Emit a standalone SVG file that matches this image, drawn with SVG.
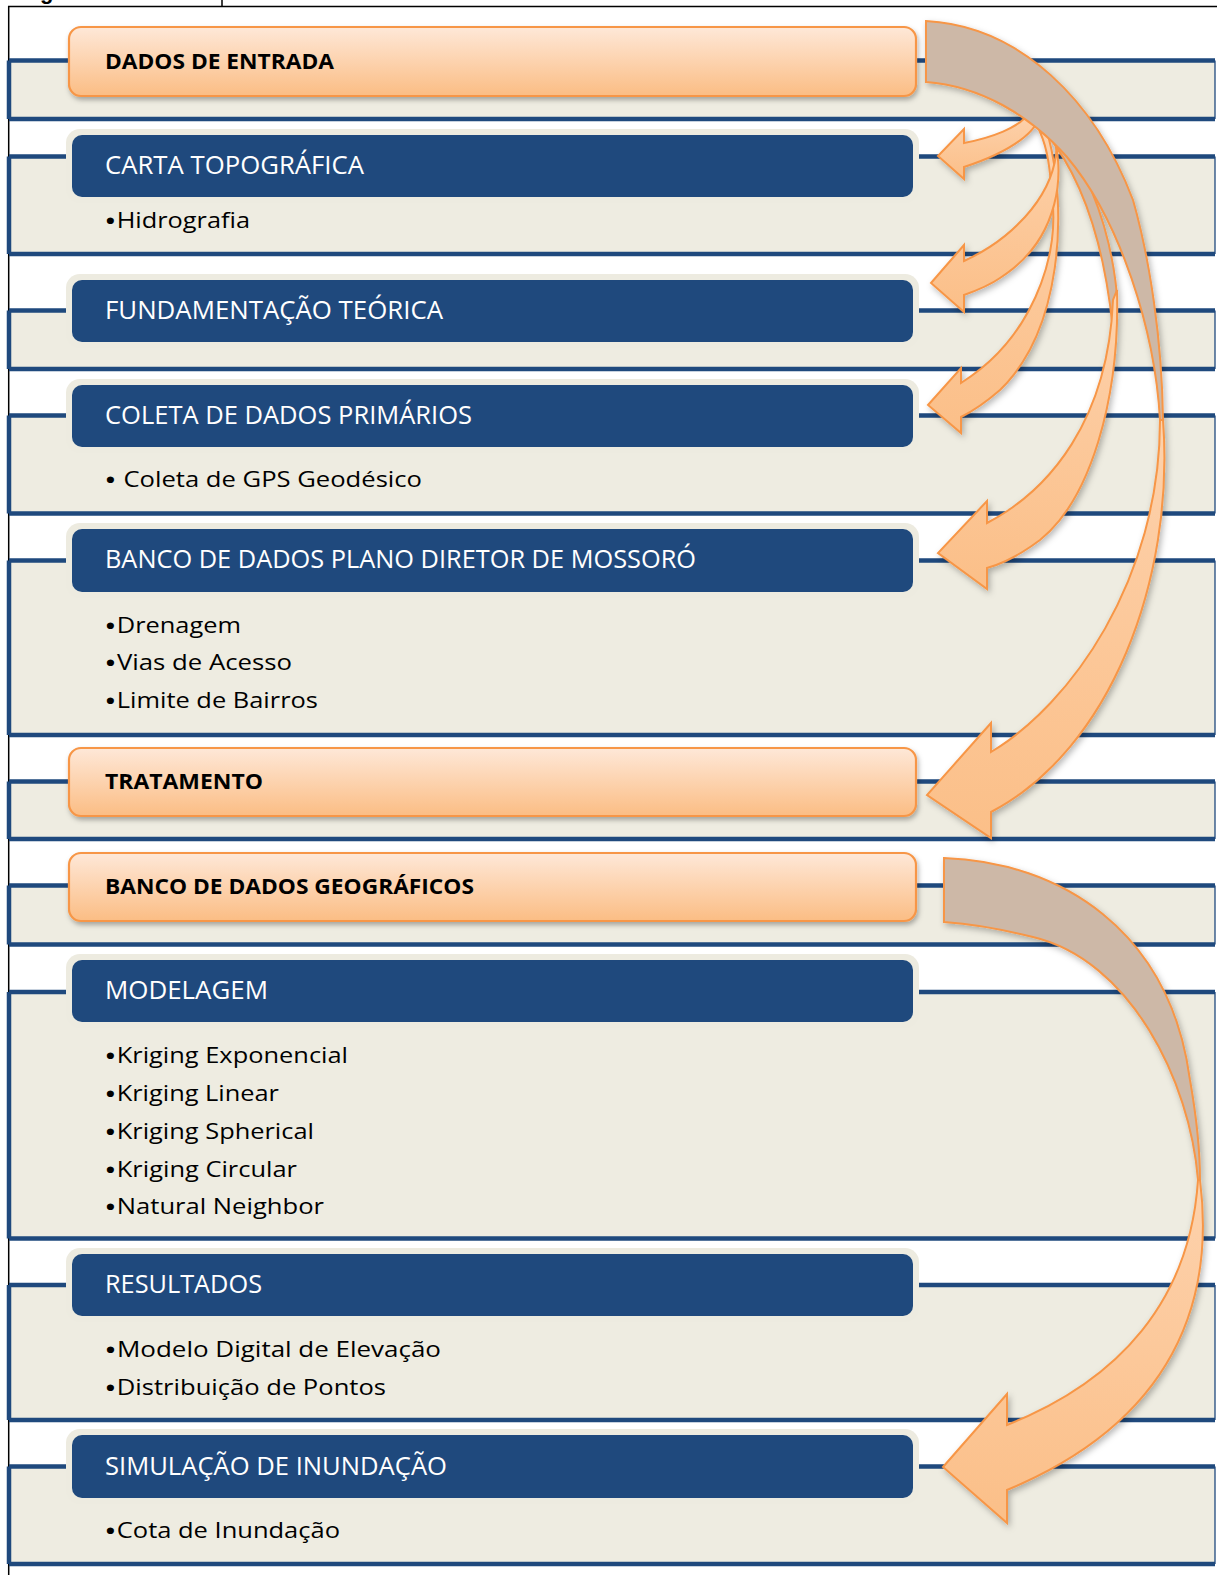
<svg xmlns="http://www.w3.org/2000/svg" width="1217" height="1575" viewBox="0 0 1217 1575">
<defs>
<linearGradient id="og" x1="0" y1="0" x2="0" y2="1"><stop offset="0" stop-color="#FEE8D8"/><stop offset="1" stop-color="#FBBD84"/></linearGradient>
<linearGradient id="pg" x1="0" y1="0" x2="0" y2="1"><stop offset="0" stop-color="#FDD2AD"/><stop offset="1" stop-color="#FBBF88"/></linearGradient>
<filter id="sh" x="-10%" y="-10%" width="130%" height="140%"><feDropShadow dx="1.5" dy="3" stdDeviation="2.5" flood-color="#000" flood-opacity="0.3"/></filter>
<filter id="ash" x="-20%" y="-20%" width="150%" height="150%"><feDropShadow dx="2" dy="3" stdDeviation="3" flood-color="#000" flood-opacity="0.28"/></filter>
<style>
.band{fill:#EEECE1}
.bl{fill:none;stroke:#1F497D;stroke-width:4.5}
.br{fill:none;stroke:#1F497D;stroke-width:1.3}
.halo{fill:#EDEBE0}
.bbox{fill:#1F497D}
.obox{fill:url(#og);stroke:#F79646;stroke-width:2.2}
.wt{font-family:"Open Sans","Noto Sans",sans-serif;font-size:25.5px;fill:#FFFFFF}
.bt{font-family:"Open Sans","Noto Sans",sans-serif;font-size:22px;font-weight:bold;fill:#000}
.tx{font-family:"Open Sans","Noto Sans",sans-serif;font-size:21px;fill:#000}
.bu{font-size:28px}
.back{fill:#CDB8A7;stroke:#F79646;stroke-width:2}
.front{fill:url(#pg);stroke:#F79646;stroke-width:2}
</style>
</defs>
<rect x="0" y="0" width="1217" height="1575" fill="#FFFFFF"/>
<g id="frame">
<text x="40" y="-1" font-family="Liberation Sans, Arial, sans-serif" font-size="22" font-weight="bold" fill="#000">g</text>
<path d="M222,0 V6.5 M8,6.5 H1217 M8.7,6 V1575" stroke="#000" stroke-width="1.5" fill="none"/>
</g>

<g id="n1">
<rect class="band" x="9" y="60.5" width="1206" height="58.5"/>
<path class="bl" d="M9,60.5 H1215 M9,119 H1215 M9,60.5 V119"/><path class="br" d="M1215,60.5 V119"/>
<rect class="obox" x="69" y="27" width="847" height="69" rx="12" filter="url(#sh)"/>
<text class="bt" x="105" y="69" textLength="229" lengthAdjust="spacingAndGlyphs">DADOS DE ENTRADA</text>
</g>

<g id="n2">
<rect class="band" x="9" y="156.5" width="1206" height="97.5"/>
<path class="bl" d="M9,156.5 H1215 M9,254 H1215 M9,156.5 V254"/><path class="br" d="M1215,156.5 V254"/>
<rect class="halo" x="66" y="129" width="853" height="74" rx="14"/>
<rect class="bbox" x="72" y="135" width="841" height="62" rx="10"/>
<text class="wt" x="105" y="174" textLength="259" lengthAdjust="spacingAndGlyphs">CARTA TOPOGRÁFICA</text>
<text class="tx" x="104" y="228" textLength="146" lengthAdjust="spacingAndGlyphs"><tspan class="bu" dy="3">•</tspan><tspan dy="-3">Hidrografia</tspan></text>
</g>

<g id="n3">
<rect class="band" x="9" y="310.5" width="1206" height="58.5"/>
<path class="bl" d="M9,310.5 H1215 M9,369 H1215 M9,310.5 V369"/><path class="br" d="M1215,310.5 V369"/>
<rect class="halo" x="66" y="274" width="853" height="74" rx="14"/>
<rect class="bbox" x="72" y="280" width="841" height="62" rx="10"/>
<text class="wt" x="105" y="319" textLength="338" lengthAdjust="spacingAndGlyphs">FUNDAMENTAÇÃO TEÓRICA</text>
</g>

<g id="n4">
<rect class="band" x="9" y="415.5" width="1206" height="98"/>
<path class="bl" d="M9,415.5 H1215 M9,513.5 H1215 M9,415.5 V513.5"/><path class="br" d="M1215,415.5 V513.5"/>
<rect class="halo" x="66" y="379" width="853" height="74" rx="14"/>
<rect class="bbox" x="72" y="385" width="841" height="62" rx="10"/>
<text class="wt" x="105" y="424" textLength="367" lengthAdjust="spacingAndGlyphs">COLETA DE DADOS PRIMÁRIOS</text>
<text class="tx" x="104" y="487" textLength="318" lengthAdjust="spacingAndGlyphs"><tspan class="bu" dy="3">•</tspan><tspan dy="-3"> Coleta de GPS Geodésico</tspan></text>
</g>

<g id="n5">
<rect class="band" x="9" y="560.5" width="1206" height="174.5"/>
<path class="bl" d="M9,560.5 H1215 M9,735 H1215 M9,560.5 V735"/><path class="br" d="M1215,560.5 V735"/>
<rect class="halo" x="66" y="523" width="853" height="75" rx="14"/>
<rect class="bbox" x="72" y="529" width="841" height="63" rx="10"/>
<text class="wt" x="105" y="568" textLength="591" lengthAdjust="spacingAndGlyphs">BANCO DE DADOS PLANO DIRETOR DE MOSSORÓ</text>
<text class="tx" x="104" y="633" textLength="137" lengthAdjust="spacingAndGlyphs"><tspan class="bu" dy="3">•</tspan><tspan dy="-3">Drenagem</tspan></text>
<text class="tx" x="104" y="670" textLength="188" lengthAdjust="spacingAndGlyphs"><tspan class="bu" dy="3">•</tspan><tspan dy="-3">Vias de Acesso</tspan></text>
<text class="tx" x="104" y="708" textLength="214" lengthAdjust="spacingAndGlyphs"><tspan class="bu" dy="3">•</tspan><tspan dy="-3">Limite de Bairros</tspan></text>
</g>

<g id="n6">
<rect class="band" x="9" y="781.5" width="1206" height="57.5"/>
<path class="bl" d="M9,781.5 H1215 M9,839 H1215 M9,781.5 V839"/><path class="br" d="M1215,781.5 V839"/>
<rect class="obox" x="69" y="748" width="847" height="68" rx="12" filter="url(#sh)"/>
<text class="bt" x="105" y="789" textLength="158" lengthAdjust="spacingAndGlyphs">TRATAMENTO</text>
</g>

<g id="n7">
<rect class="band" x="9" y="885.5" width="1206" height="59"/>
<path class="bl" d="M9,885.5 H1215 M9,944.5 H1215 M9,885.5 V944.5"/><path class="br" d="M1215,885.5 V944.5"/>
<rect class="obox" x="69" y="853" width="847" height="68" rx="12" filter="url(#sh)"/>
<text class="bt" x="105" y="894" textLength="369" lengthAdjust="spacingAndGlyphs">BANCO DE DADOS GEOGRÁFICOS</text>
</g>

<g id="n8">
<rect class="band" x="9" y="992" width="1206" height="246.5"/>
<path class="bl" d="M9,992 H1215 M9,1238.5 H1215 M9,992 V1238.5"/><path class="br" d="M1215,992 V1238.5"/>
<rect class="halo" x="66" y="954" width="853" height="74" rx="14"/>
<rect class="bbox" x="72" y="960" width="841" height="62" rx="10"/>
<text class="wt" x="105" y="999" textLength="163" lengthAdjust="spacingAndGlyphs">MODELAGEM</text>
<text class="tx" x="104" y="1063" textLength="244" lengthAdjust="spacingAndGlyphs"><tspan class="bu" dy="3">•</tspan><tspan dy="-3">Kriging Exponencial</tspan></text>
<text class="tx" x="104" y="1101" textLength="175" lengthAdjust="spacingAndGlyphs"><tspan class="bu" dy="3">•</tspan><tspan dy="-3">Kriging Linear</tspan></text>
<text class="tx" x="104" y="1139" textLength="210" lengthAdjust="spacingAndGlyphs"><tspan class="bu" dy="3">•</tspan><tspan dy="-3">Kriging Spherical</tspan></text>
<text class="tx" x="104" y="1177" textLength="193" lengthAdjust="spacingAndGlyphs"><tspan class="bu" dy="3">•</tspan><tspan dy="-3">Kriging Circular</tspan></text>
<text class="tx" x="104" y="1214" textLength="220" lengthAdjust="spacingAndGlyphs"><tspan class="bu" dy="3">•</tspan><tspan dy="-3">Natural Neighbor</tspan></text>
</g>

<g id="n9">
<rect class="band" x="9" y="1285" width="1206" height="135"/>
<path class="bl" d="M9,1285 H1215 M9,1420 H1215 M9,1285 V1420"/><path class="br" d="M1215,1285 V1420"/>
<rect class="halo" x="66" y="1248" width="853" height="74" rx="14"/>
<rect class="bbox" x="72" y="1254" width="841" height="62" rx="10"/>
<text class="wt" x="105" y="1293" textLength="157" lengthAdjust="spacingAndGlyphs">RESULTADOS</text>
<text class="tx" x="104" y="1357" textLength="337" lengthAdjust="spacingAndGlyphs"><tspan class="bu" dy="3">•</tspan><tspan dy="-3">Modelo Digital de Elevação</tspan></text>
<text class="tx" x="104" y="1395" textLength="282" lengthAdjust="spacingAndGlyphs"><tspan class="bu" dy="3">•</tspan><tspan dy="-3">Distribuição de Pontos</tspan></text>
</g>

<g id="n10">
<rect class="band" x="9" y="1466.5" width="1206" height="97.5"/>
<path class="bl" d="M9,1466.5 H1215 M9,1564 H1215 M9,1466.5 V1564"/><path class="br" d="M1215,1466.5 V1564"/>
<rect class="halo" x="66" y="1429" width="853" height="75" rx="14"/>
<rect class="bbox" x="72" y="1435" width="841" height="63" rx="10"/>
<text class="wt" x="105" y="1475" textLength="342" lengthAdjust="spacingAndGlyphs">SIMULAÇÃO DE INUNDAÇÃO</text>
<text class="tx" x="104" y="1538" textLength="236" lengthAdjust="spacingAndGlyphs"><tspan class="bu" dy="3">•</tspan><tspan dy="-3">Cota de Inundação</tspan></text>
</g>

<g id="connectors">
<g filter="url(#ash)">
<path class="back" d="M1045,120 C1080,150 1110,220 1117,295 L1113,330 C1105,250 1085,180 1045,132 Z"/>
<path class="front" d="M1117,290 C1120,400 1090,500 1040,540 C1020,555 1005,563 987,568 L987,589 L938,553 L987,501 L987,523 C1050,490 1108,420 1113,300 Z"/>
<path class="front" d="M1048,135 C1068,210 1062,330 1000,390 C985,403 975,410 961,417 L961,433 L928,405 L961,368 L961,383 C1030,340 1060,260 1052,195 C1050,170 1048,150 1040,132 Z"/>
<path class="front" d="M1050,125 C1068,170 1060,240 1000,278 C990,285 978,290 964,295 L964,312 L931,283 L964,245 L964,261 C1010,240 1050,200 1056,155 C1057,145 1055,135 1048,125 Z"/>
<path class="front" d="M1038,112 C1042,130 1010,152 964,167 L964,179 L938,156 L964,129 L964,143 C990,138 1020,128 1030,112 Z"/>
<path class="back" d="M926,21 C1020,26 1095,100 1133,200 C1150,260 1162,340 1163,420 L1160,420 C1155,330 1120,220 1067,157 C1030,115 980,86 926,82 Z"/>
<path class="front" d="M1163,420 C1175,580 1110,750 991,812 L991,838 L927,795 L991,723 L991,752 C1070,705 1160,580 1160,420 Z"/>
</g>
<g filter="url(#ash)">
<path class="back" d="M944,858 C1060,862 1170,930 1190,1080 C1197,1120 1200,1150 1200,1180 L1198,1180 C1190,1080 1130,960 1033,937 C1005,930 975,924 944,922 Z"/>
<path class="front" d="M1200,1180 C1215,1300 1175,1420 1007,1490 L1007,1523 L943,1467 L1007,1394 L1007,1425 C1120,1380 1190,1300 1198,1180 Z"/>
</g>
</g>
</svg>
